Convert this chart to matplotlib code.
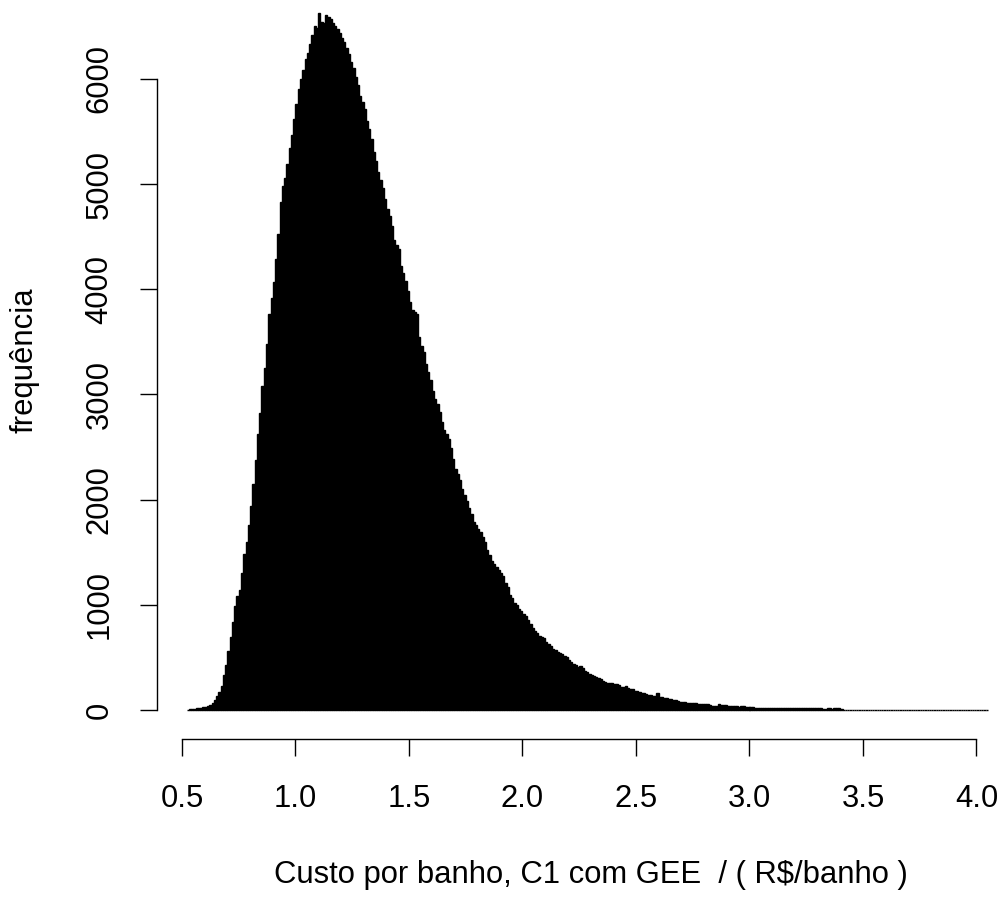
import numpy as np
import matplotlib
matplotlib.use('Agg')
import matplotlib.pyplot as plt

plt.rcParams['font.family'] = ['Liberation Sans', 'DejaVu Sans']

# DATA: histogram counts, bins of width 0.01 starting at 0.52
first_break = 0.52
bin_width = 0.01
freq = [
    3, 5, 8, 12, 15, 18, 20, 24,                                   # 0.52-0.59
    28, 35, 45, 62, 95, 130, 175, 230, 330, 430,                   # 0.60
    560, 690, 840, 990, 1080, 1140, 1300, 1480, 1600, 1760,        # 0.70
    1940, 2150, 2380, 2620, 2820, 3080, 3250, 3480, 3760, 3920,    # 0.80
    4070, 4290, 4520, 4830, 4980, 5060, 5190, 5340, 5470, 5620,    # 0.90
    5760, 5900, 6000, 6080, 6190, 6250, 6330, 6420, 6500, 6480,    # 1.00
    6630, 6540, 6530, 6610, 6590, 6570, 6530, 6500, 6470, 6440,    # 1.10
    6390, 6350, 6290, 6240, 6160, 6100, 6020, 5940, 5840, 5780,    # 1.20
    5710, 5600, 5520, 5430, 5300, 5220, 5110, 5040, 4960, 4860,    # 1.30
    4760, 4700, 4600, 4470, 4420, 4380, 4220, 4150, 4080, 3980,    # 1.40
    3880, 3800, 3780, 3760, 3550, 3460, 3400, 3290, 3210, 3140,    # 1.50
    3030, 2960, 2910, 2830, 2740, 2660, 2620, 2580, 2490, 2390,    # 1.60
    2290, 2240, 2190, 2100, 2040, 1990, 1920, 1860, 1790, 1760,    # 1.70
    1720, 1690, 1640, 1600, 1520, 1470, 1420, 1390, 1360, 1330,    # 1.80
    1300, 1270, 1210, 1170, 1090, 1060, 1020, 1000, 960, 940,      # 1.90
    910, 890, 860, 820, 780, 750, 730, 700, 690, 680,              # 2.00
    650, 630, 610, 580, 570, 550, 540, 530, 510, 500,              # 2.10
    480, 460, 440, 430, 410, 420, 400, 370, 360, 340,              # 2.20
    330, 320, 310, 300, 295, 280, 265, 260, 255, 260,              # 2.30
    250, 245, 235, 215, 220, 230, 210, 200, 195, 185,              # 2.40
    180, 172, 165, 158, 150, 142, 138, 134, 130, 160,              # 2.50
    126, 122, 118, 112, 108, 104, 98, 92, 86, 80,                  # 2.60
    76, 73, 70, 68, 66, 64, 62, 60, 58, 56,                        # 2.70
    55, 54, 45, 40, 40, 40, 60, 45, 44, 43,                        # 2.80
    42, 41, 40, 40, 40, 30, 40, 38, 26, 25,                        # 2.90
    24, 24, 23, 23, 22, 22, 21, 21, 21, 20,                        # 3.00
    20, 20, 19, 19, 19, 18, 18, 18, 18, 17,                        # 3.10
    17, 17, 17, 16, 16, 16, 16, 15, 15, 15,                        # 3.20
    15, 15, 14, 8, 20, 22, 8, 20, 22, 20,                          # 3.30
    5, 4, 4, 4, 3, 3, 3, 3, 3, 2,                                  # 3.40
    2, 2, 2, 2, 2, 2, 1, 1, 2, 1,                                  # 3.50
    1, 1, 1, 1, 1, 1, 1, 0, 1, 1,                                  # 3.60
    0, 1, 0, 1, 0, 0, 1, 0, 0, 1,                                  # 3.70
    0, 0, 0, 1, 0, 0, 0, 0, 1, 0,                                  # 3.80
    0, 0, 0, 0, 0, 0, 1, 0, 0, 0,                                  # 3.90
    0, 0, 0, 1, 0,                                                 # 4.00
]

x_ticks = [0.5, 1.0, 1.5, 2.0, 2.5, 3.0, 3.5, 4.0]
x_tick_labels = ['0.5', '1.0', '1.5', '2.0', '2.5', '3.0', '3.5', '4.0']
y_ticks = [0, 1000, 2000, 3000, 4000, 5000, 6000]
y_tick_labels = ['0', '1000', '2000', '3000', '4000', '5000', '6000']
xlabel = 'Custo por banho, C1 com GEE  / ( R$/banho )'
ylabel = 'frequência'

# --------------------------------------------------
# FIGURE (pixel layout of the R device)
W, H = 1003, 900
fig = plt.figure(figsize=(W / 100, H / 100), dpi=100)

px_per_unit = 227.0      # x: pixels per R$
px_per_count = 0.1052    # y: pixels per count
x0_px, y0_px = 182, 710  # pixel of x=0.5, count=0
left_px, bottom_px = 157, 739

ax = fig.add_axes([left_px / W, (H - bottom_px) / H, (W - left_px) / W, bottom_px / H])

edges = first_break + bin_width * np.arange(len(freq) + 1)
ax.bar(edges[:-1], freq, width=bin_width, align='edge',
       color='black', edgecolor='black', linewidth=1.0)

ax.set_xlim(0.5 - (x0_px - left_px) / px_per_unit, 0.5 + (W - x0_px) / px_per_unit)
ax.set_ylim(-(bottom_px - y0_px) / px_per_count, y0_px / px_per_count)

# R style axes
for s in ['top', 'right']:
    ax.spines[s].set_visible(False)
ax.spines['left'].set_bounds(0, 6000)
ax.spines['bottom'].set_bounds(0.5, 4.0)
ax.spines['left'].set_linewidth(1.0)
ax.spines['bottom'].set_linewidth(1.0)

ax.set_xticks(x_ticks)
ax.set_xticklabels(x_tick_labels)
ax.set_yticks(y_ticks)
ax.set_yticklabels(y_tick_labels)
ax.tick_params(direction='out', length=12.3, width=1.0, labelsize=22.3)
ax.tick_params(axis='x', pad=20)
ax.tick_params(axis='y', pad=18.4)
for lab in ax.get_yticklabels():
    lab.set_rotation(90)
    lab.set_va('center')

fig.text(591 / W, 1 - 883 / H, xlabel, ha='center', va='baseline', fontsize=22.3)
fig.text(25 / W, 1 - 360 / H, ylabel, rotation=90, ha='center', va='center', fontsize=22.3)

plt.savefig('out.png', dpi=100)
